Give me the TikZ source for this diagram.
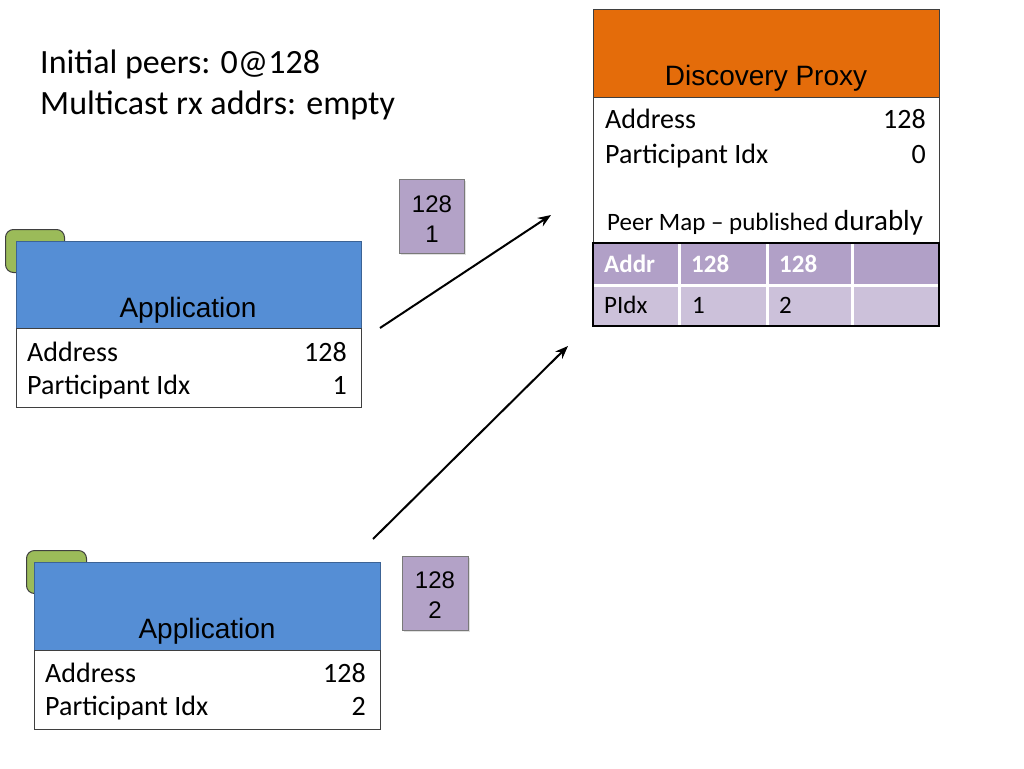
\documentclass[tikz,border=0pt]{standalone}
\usepackage{fontspec}
\setmainfont{Carlito}
\newfontfamily\arial{Liberation Sans}
\usetikzlibrary{arrows.meta}
\definecolor{dporange}{HTML}{E46C0A}
\definecolor{appblue}{HTML}{558ED5}
\definecolor{tabgreen}{HTML}{9BBB59}
\definecolor{pktpurple}{HTML}{B3A2C7}
\definecolor{thead}{HTML}{B1A0C7}
\definecolor{trowc}{HTML}{CCC1DA}
\definecolor{edge}{HTML}{3F3F3F}
\tikzset{
  boxn/.style={draw=edge, line width=1pt, inner sep=0pt, anchor=north west},
  bodytxt/.style={font=\fontsize{28}{34}\selectfont, inner sep=0pt},
  toptxt/.style={font=\fontsize{34}{40}\selectfont, inner sep=0pt, anchor=base west},
  titletxt/.style={font=\arial\fontsize{28}{34}\selectfont, inner sep=0pt, anchor=base},
  pkttxt/.style={font=\arial\fontsize{24}{30}\selectfont, inner sep=0pt, anchor=base},
  tabtxt/.style={font=\fontsize{25}{30}\selectfont, inner sep=0pt, anchor=base west},
  tabhtxt/.style={font=\bfseries\fontsize{25}{30}\selectfont, text=white, inner sep=0pt, anchor=base west},
  pkt/.style={draw=edge!70, fill=pktpurple, line width=1pt, inner sep=0pt, anchor=north west},
  flow/.style={line width=2pt, -{Stealth[length=13pt, width=10pt]}},
}
\begin{document}
\begin{tikzpicture}[x=1pt, y=-1pt]
\useasboundingbox (0,0) rectangle (1024,768);
% top text
\node[toptxt] (t1) at (40,74) {Initial peers: 0@128};
\node[toptxt] (t2) at (40,114) {Multicast rx addrs: empty};
% Discovery proxy
\node[boxn, fill=dporange, minimum width=346pt, minimum height=88pt] (dphead) at (593,9) {};
\node[titletxt] (dptitle) at (766,85) {Discovery Proxy};
\node[boxn, fill=white, minimum width=346pt, minimum height=146pt] (dpbody) at (593,97) {};
\node[bodytxt, anchor=base west] (dpa) at (605,128) {Address};
\node[bodytxt, anchor=base east] (dpav) at (926,128) {128};
\node[bodytxt, anchor=base west] (dpp) at (605,163) {Participant Idx};
\node[bodytxt, anchor=base east] (dppv) at (926,163) {0};
\node[inner sep=0pt, anchor=base west] (pm) at (607,230) {\fontsize{25}{30}\selectfont Peer Map -- published \fontsize{29}{34}\selectfont durably};
% table
\node[fill=thead, inner sep=0pt, anchor=north west, minimum width=346pt, minimum height=42pt] (tr1) at (593,243) {};
\node[fill=trowc, inner sep=0pt, anchor=north west, minimum width=346pt, minimum height=41pt] (tr2) at (593,285) {};
\draw[white, line width=3pt] (593,285) -- (939,285);
\foreach \cx in {679,767.5,852.5} \draw[white, line width=3pt] (\cx,243) -- (\cx,326);
\draw[black, line width=1.2pt] (593,243) rectangle (939,326);
\node[tabhtxt] (ta) at (604,272) {Addr};
\node[tabhtxt] (ta1) at (691,272) {128};
\node[tabhtxt] (ta2) at (779,272) {128};
\node[tabtxt] (tp) at (604,313) {PIdx};
\node[tabtxt] (tp1) at (692,313) {1};
\node[tabtxt] (tp2) at (779,313) {2};
% Application 1
\node[draw=edge, line width=1pt, fill=tabgreen, rounded corners=8pt, inner sep=0pt, anchor=north west, minimum width=59pt, minimum height=43pt] (g1) at (5,229) {};
\node[boxn, draw=appblue!70!black, fill=appblue, minimum width=345pt, minimum height=87pt] (a1head) at (16,241) {};
\node[titletxt] (a1title) at (188,317) {Application};
\node[boxn, fill=white, minimum width=345pt, minimum height=79pt] (a1body) at (16,328) {};
\node[bodytxt, anchor=base west] (a1a) at (27,361) {Address};
\node[bodytxt, anchor=base east] (a1av) at (347,361) {128};
\node[bodytxt, anchor=base west] (a1p) at (27,394) {Participant Idx};
\node[bodytxt, anchor=base east] (a1pv) at (347,394) {1};
% Application 2
\node[draw=edge, line width=1pt, fill=tabgreen, rounded corners=8pt, inner sep=0pt, anchor=north west, minimum width=60pt, minimum height=43pt] (g2) at (26,550) {};
\node[boxn, draw=appblue!70!black, fill=appblue, minimum width=346pt, minimum height=88pt] (a2head) at (34,562) {};
\node[titletxt] (a2title) at (207,638) {Application};
\node[boxn, fill=white, minimum width=346pt, minimum height=79pt] (a2body) at (34,650) {};
\node[bodytxt, anchor=base west] (a2a) at (45,682) {Address};
\node[bodytxt, anchor=base east] (a2av) at (366,682) {128};
\node[bodytxt, anchor=base west] (a2p) at (45,715) {Participant Idx};
\node[bodytxt, anchor=base east] (a2pv) at (366,715) {2};
% packets
\fill[black!12] (400.5,180.5) rectangle (466,255);
\node[pkt, minimum width=65pt, minimum height=74pt] (p1) at (399,179) {};
\node[pkttxt] (p1a) at (432,212) {128};
\node[pkttxt] (p1b) at (432,242) {1};
\fill[black!12] (403.5,557.5) rectangle (470,632);
\node[pkt, minimum width=66pt, minimum height=74pt] (p2) at (402,556) {};
\node[pkttxt] (p2a) at (435,588) {128};
\node[pkttxt] (p2b) at (435,618) {2};
% arrows
\coordinate (s1) at (380,328);
\coordinate (e1) at (551,215);
\coordinate (s2) at (373,539);
\coordinate (e2) at (568,346);
\draw[flow] (s1) -- (e1);
\draw[flow] (s2) -- (e2);
\end{tikzpicture}
\end{document}
